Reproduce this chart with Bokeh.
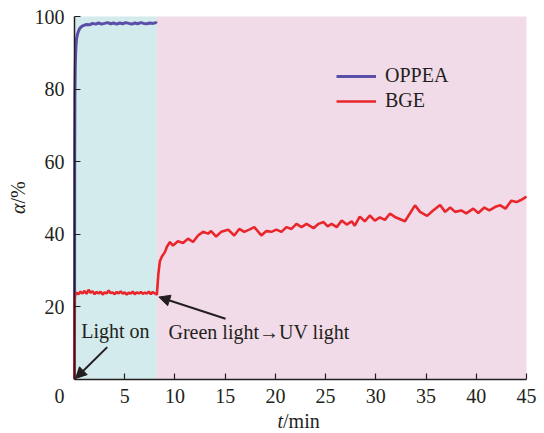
import math
from bokeh.plotting import figure
from bokeh.models import Label, Arrow, NormalHead, Legend, LegendItem, FixedTicker
from bokeh.embed import file_html
from bokeh.resources import INLINE

# ---------------- data ----------------
phase_start = [0, 8.2]
phase_end = [8.2, 45]
phase_color = ["#d3ebec", "#f2dbe8"]

x_ticks = [0, 5, 10, 15, 20, 25, 30, 35, 40, 45]
y_ticks = [20, 40, 60, 80, 100]

oppea_t = [0, 0.02, 0.04, 0.07, 0.1, 0.15, 0.2, 0.3, 0.4, 0.5, 0.65, 0.8, 1.0, 1.2, 1.5,
           1.8, 2.1, 2.4, 2.7, 3.0, 3.3, 3.6, 3.9, 4.2, 4.5, 4.8, 5.1, 5.4, 5.7, 6.0,
           6.3, 6.6, 6.9, 7.2, 7.5, 7.8, 8.1, 8.2]
oppea_v = [0, 62, 78, 85, 89, 92, 93.8, 95.2, 96.0, 96.6, 97.1, 97.4, 97.6, 97.8, 97.7,
           98.1, 97.9, 98.2, 97.9, 98.1, 98.3, 98.0, 98.2, 97.9, 98.2, 98.0, 98.3, 98.1, 97.9, 98.2,
           98.0, 98.3, 98.1, 98.0, 98.2, 98.1, 98.3, 98.1]

bge_t = [0, 0.03, 0.08, 0.2, 0.4, 0.6, 0.8, 1.0, 1.2, 1.4, 1.6, 1.8, 2.0, 2.2, 2.4, 2.6,
         2.8, 3.0, 3.2, 3.4, 3.6, 3.8, 4.0, 4.2, 4.4, 4.6, 4.8, 5.0, 5.2, 5.4, 5.6, 5.8,
         6.0, 6.2, 6.4, 6.6, 6.8, 7.0, 7.2, 7.4, 7.6, 7.8, 8.0, 8.2,
         8.35, 8.5, 8.7, 9.0, 9.2, 9.5, 9.8, 10.3, 10.8, 11.3, 11.8, 12.3, 12.8, 13.3, 13.6,
         14.1, 14.6, 15.3, 15.9, 16.4, 16.9, 17.4, 17.9, 18.6, 19.1, 19.6, 20.1, 20.6, 21.1,
         21.6, 22.1, 22.6, 23.1, 23.8, 24.3, 24.8, 25.2, 25.6, 26.1, 26.6, 27.1, 27.6, 27.9,
         28.4, 28.9, 29.4, 29.9, 30.4, 30.9, 31.4, 31.9, 32.9, 33.9, 34.4, 35.1, 35.7, 36.4,
         36.9, 37.4, 37.9, 38.5, 39.0, 39.7, 40.2, 40.8, 41.3, 41.9, 42.4, 42.9, 43.5, 44.0,
         44.4, 45.0]
bge_v = [0, 22.5, 23.2, 23.8, 23.4, 24.1, 23.6, 24.3, 23.5, 24.6, 23.8, 24.2, 23.4, 24.0, 23.6, 24.1,
         23.3, 23.9, 23.6, 24.4, 23.7, 23.9, 23.4, 24.0, 23.6, 24.2, 23.5, 23.9, 23.3, 23.8, 23.6, 24.1,
         23.4, 23.9, 23.6, 24.0, 23.5, 23.8, 23.6, 24.1, 23.4, 24.0, 23.6, 23.3,
         29.0, 32.5, 33.8, 35.0, 36.5, 37.8, 36.8, 38.0, 37.5, 38.7, 37.8, 39.6, 40.6, 40.1, 40.8,
         39.3, 40.6, 41.2, 39.6, 41.4, 40.6, 41.2, 41.9, 39.6, 40.8, 40.6, 41.2, 40.6, 41.9,
         41.4, 42.8, 41.9, 42.8, 41.6, 42.8, 43.3, 42.1, 42.8, 41.9, 43.7, 42.6, 43.5, 42.3,
         44.8, 43.5, 45.1, 43.7, 44.6, 43.9, 45.6, 44.7, 43.5, 47.9, 46.1, 45.0, 46.5, 48.0,
         46.1, 47.3, 46.1, 46.5, 45.7, 47.0, 45.8, 47.3, 46.5, 47.5, 47.9, 47.0, 49.2, 48.8,
         49.3, 50.3]

series_names = ["OPPEA", "BGE"]
series_colors = ["#5a4ea8", "#e8262b"]

# ---------------- figure ----------------
FONT = "Liberation Serif"
INK = "#231f20"
W, H = 544, 433
# pixel placement of the data area inside the canvas
PX_L, PX_R, PX_T, PX_B = 74, 526, 16, 378.5
xs = (PX_R - PX_L) / 45.0
ys = (PX_B - PX_T) / 100.0
x_range = (-PX_L / xs, 45 + (W - PX_R) / xs)
y_range = (-(H - PX_B) / ys, 100 + PX_T / ys)

p = figure(width=W, height=H, x_range=x_range, y_range=y_range,
           output_backend="svg", toolbar_location=None,
           min_border_left=0, min_border_right=0, min_border_top=0, min_border_bottom=0)
p.outline_line_color = None
p.xgrid.visible = False
p.ygrid.visible = False

p.quad(left=phase_start, right=phase_end, bottom=0, top=100,
       fill_color=phase_color, line_color=None)

r1 = p.line(oppea_t, oppea_v, line_color=series_colors[0], line_width=3)
r2 = p.line(bge_t, bge_v, line_color=series_colors[1], line_width=2.6)

for ax in (p.xaxis[0], p.yaxis[0]):
    ax.fixed_location = 0
    ax.axis_line_color = INK
    ax.axis_line_width = 1.5
    ax.major_tick_line_color = INK
    ax.major_tick_line_width = 1.2
    ax.major_tick_in = 6
    ax.major_tick_out = 0
    ax.minor_tick_in = 0
    ax.minor_tick_out = 0
    ax.major_label_text_font = FONT
    ax.major_label_text_font_size = "20px"
    ax.major_label_text_color = INK

p.xaxis[0].bounds = (0, 45)
p.xaxis[0].ticker = FixedTicker(ticks=x_ticks)
p.xaxis[0].major_label_overrides = {0: ""}
p.xaxis[0].major_label_standoff = 10
p.yaxis[0].bounds = (0, 100)
p.yaxis[0].ticker = FixedTicker(ticks=y_ticks)
p.yaxis[0].major_label_standoff = 10

# corner zero label
p.add_layout(Label(x=-1.49, y=-4.6, text="0",
                   text_font=FONT, text_font_size="20px", text_color=INK,
                   text_align="center", text_baseline="alphabetic"))

# axis titles (italic symbol + upright unit)
p.add_layout(Label(x=20.76, y=-11.6, text="t",
                   text_font=FONT, text_font_style="italic", text_font_size="20px",
                   text_color=INK, text_align="right", text_baseline="alphabetic"))
p.add_layout(Label(x=20.76, y=-11.6, text="/min",
                   text_font=FONT, text_font_size="20px",
                   text_color=INK, text_align="left", text_baseline="alphabetic"))
p.add_layout(Label(x=-5.58, y=48.41, text="α",
                   angle=math.pi / 2, text_font=FONT, text_font_style="italic",
                   text_font_size="20px", text_color=INK, text_align="right",
                   text_baseline="alphabetic"))
p.add_layout(Label(x=-5.58, y=48.41, text="/%",
                   angle=math.pi / 2, text_font=FONT, text_font_size="20px",
                   text_color=INK, text_align="left", text_baseline="alphabetic"))

# annotations
p.add_layout(Label(x=0.67, y=13.2, text="Light on", text_font=FONT, text_font_size="20px",
                   text_color=INK, text_align="left", text_baseline="alphabetic"))
p.add_layout(Label(x=9.36, y=13.0, text="Green light\u2192UV light", text_font=FONT,
                   text_font_size="20px", text_color=INK, text_align="left",
                   text_baseline="alphabetic"))
p.add_layout(Arrow(end=NormalHead(size=11, fill_color=INK, line_color=INK, line_width=1),
                   x_start=3.26, y_start=8.8, x_end=0.1, y_end=0.15,
                   line_color=INK, line_width=2))
p.add_layout(Arrow(end=NormalHead(size=11, fill_color=INK, line_color=INK, line_width=1),
                   x_start=15.04, y_start=16.6, x_end=8.4, y_end=22.6,
                   line_color=INK, line_width=2))

legend = Legend(items=[LegendItem(label=series_names[0], renderers=[r1]),
                       LegendItem(label=series_names[1], renderers=[r2])],
                location=(336, 321), background_fill_alpha=0, border_line_color=None,
                padding=0, margin=0, glyph_width=40, glyph_height=20, label_height=20,
                spacing=2, label_standoff=9, label_text_font=FONT,
                label_text_font_size="20px", label_text_color=INK)
p.add_layout(legend)

open("out.html", "w").write(file_html(p, INLINE))
